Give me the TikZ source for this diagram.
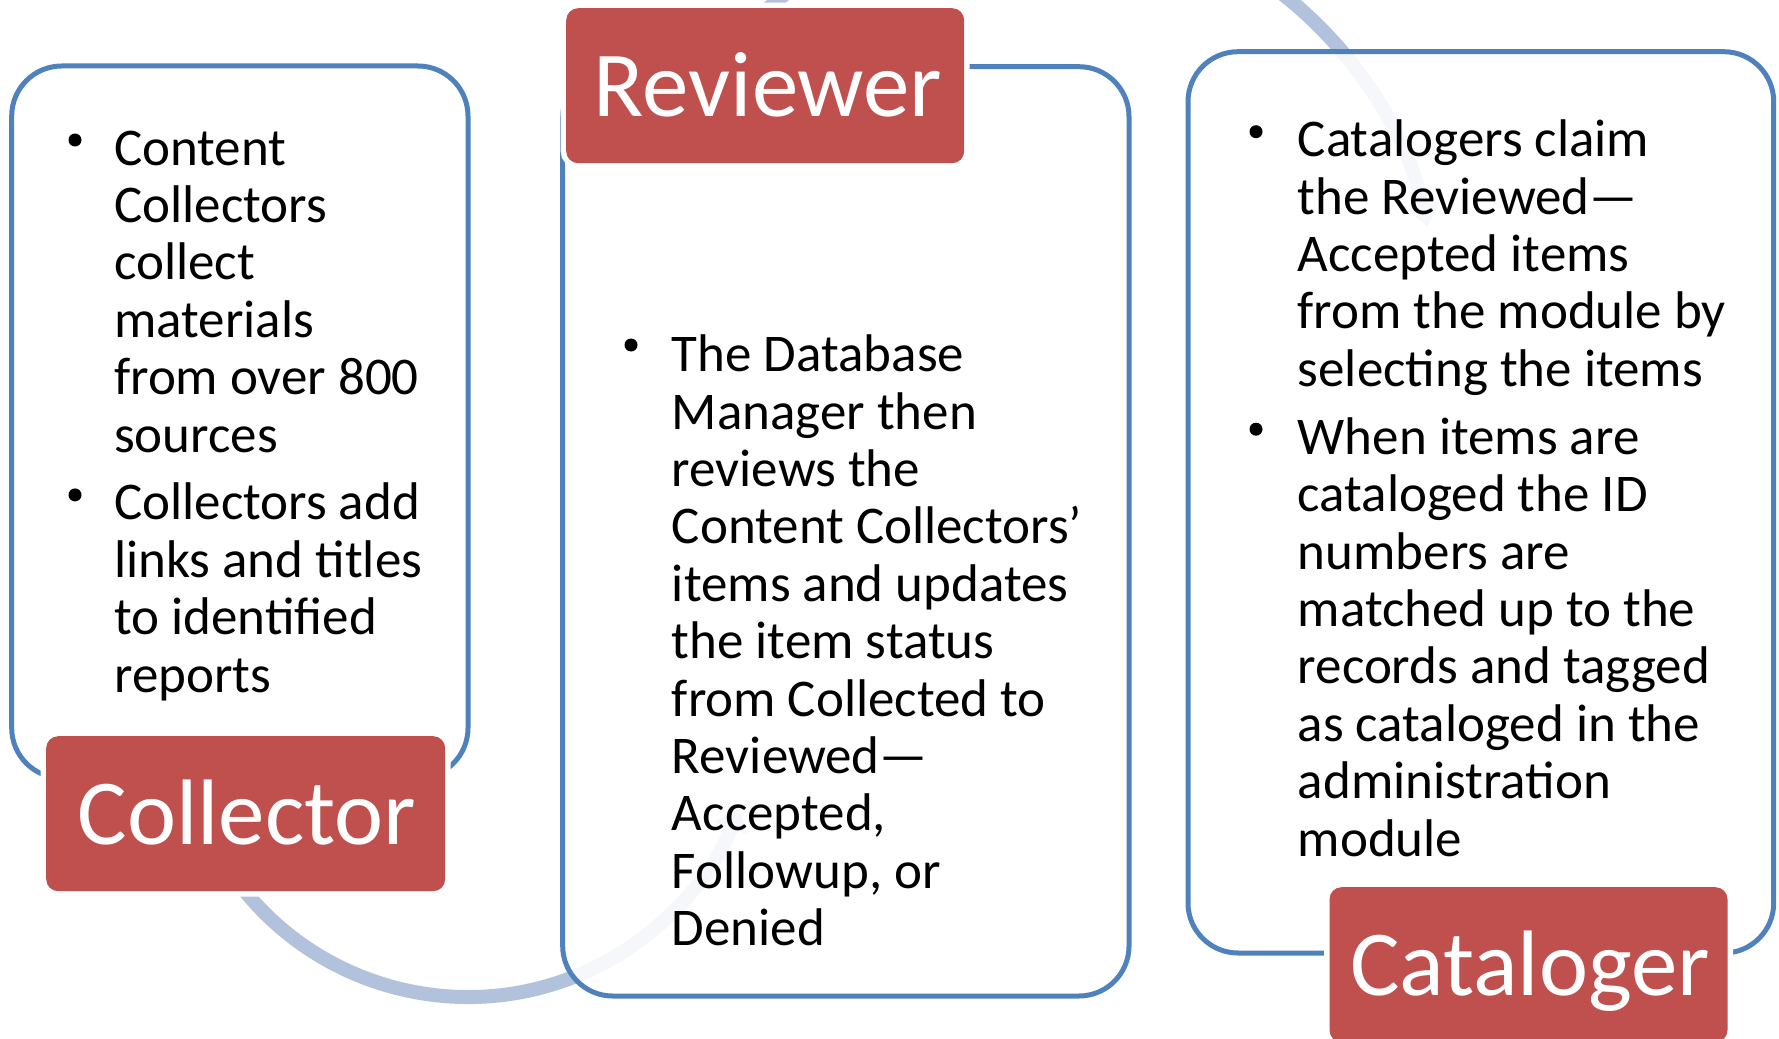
\documentclass[tikz,border=0pt]{standalone}
\usepackage{fontspec}
\setmainfont{Carlito}
\usetikzlibrary{arrows.meta}
\definecolor{panelblue}{RGB}{79,129,189}
\definecolor{labelred}{RGB}{192,80,77}
\definecolor{arcblue}{RGB}{179,194,220}
\begin{document}
\begin{tikzpicture}[x=1pt,y=-1pt,
  panel/.style={draw=panelblue, line width=5pt, rounded corners=50pt, fill=white, fill opacity=0.88, draw opacity=1, anchor=north west, inner sep=0pt, outer sep=0pt},
  rolebox/.style={fill=labelred, rounded corners=12pt, preaction={draw=white, line width=11pt, rounded corners=12pt}, anchor=north west, inner sep=0pt, minimum height=155pt},
  roletext/.style={text=white, font=\fontsize{93}{112}\selectfont, anchor=base, inner sep=0pt},
  body/.style={font=\fontsize{53}{57.4}\selectfont, anchor=base west, inner sep=0pt},
  dot/.style={circle, fill=black, inner sep=0pt, minimum size=13pt},
  flow/.style={draw=arcblue, line width=14pt, -{Triangle[width=34pt,length=22pt]}}
]
\useasboundingbox (0,0) rectangle (1779,1038);
\clip (0,0) rectangle (1779,1038);

% background flow arcs
\coordinate (a1s) at ({468+288*cos(150)},{709+288*sin(150)});
\draw[flow] (a1s) arc[start angle=150, end angle=20, radius=288];
\coordinate (a2s) at ({1034+402*cos(-140)},{310+402*sin(-140)});
\draw[flow] (a2s) arc[start angle=-140, end angle=-12, radius=402];

% panels
\node[panel, minimum width=456.3pt, minimum height=712pt] (p1) at (11.7,66) {};
\node[panel, minimum width=566.3pt, minimum height=929.3pt] (p2) at (562.7,66.7) {};
\node[panel, minimum width=585.7pt, minimum height=901.3pt] (p3) at (1188,51.7) {};

% role labels
\node[rolebox, minimum width=399pt] (l1) at (46,736) {};
\node[rolebox, minimum width=398pt] (l2) at (566,8) {};
\node[rolebox, minimum width=398pt] (l3) at (1329.3,887) {};
\node[roletext] (t1) at (247,844) {Collector};
\node[roletext] (t2) at (768,116.7) {Reviewer};
\node[roletext] (t3) at (1530,995) {Cataloger};

% left panel text
\node[dot] (b1) at (75,140) {};
\foreach \t [count=\i] in {Content, Collectors, collect, materials, from over 800, sources}
  \node[body] (la\i) at (114,{165+57.4*(\i-1)}) {\t};
\node[dot] (b2) at (75,494.9) {};
\foreach \t [count=\i] in {Collectors add, links and titles, to identified, reports}
  \node[body] (lb\i) at (114,{519.9+57.4*(\i-1)}) {\t};

% middle panel text
\node[dot] (b3) at (631,345) {};
\foreach \t [count=\i] in {The Database, Manager then, reviews the, Content Collectors’, items and updates, the item status, from Collected to, Reviewed—, {Accepted,}, {Followup, or}, Denied}
  \node[body] (m\i) at (671.7,{371.7+57.4*(\i-1)}) {\t};

% right panel text
\node[dot] (b4) at (1256,131.7) {};
\foreach \t [count=\i] in {Catalogers claim, the Reviewed—, Accepted items, from the module by, selecting the items}
  \node[body] (ra\i) at (1297.6,{156.7+57.4*(\i-1)}) {\t};
\node[dot] (b5) at (1256,429.2) {};
\foreach \t [count=\i] in {When items are, cataloged the ID, numbers are, matched up to the, records and tagged, as cataloged in the, administration, module}
  \node[body] (rb\i) at (1297.6,{454.2+57.4*(\i-1)}) {\t};
\end{tikzpicture}
\end{document}
